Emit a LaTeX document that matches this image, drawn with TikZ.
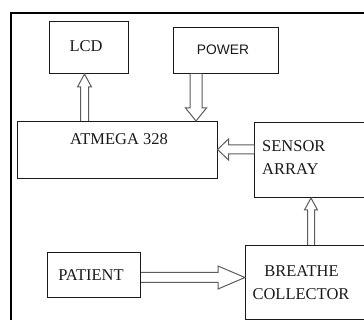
\documentclass[tikz,border=0pt]{standalone}
\usepackage{fontspec}
\setmainfont{Liberation Serif}
\newfontfamily\powerfont{Liberation Sans}
\usetikzlibrary{calc}
\definecolor{ink}{HTML}{1A1A1A}
\definecolor{arrgray}{HTML}{5C5C5C}
\tikzset{
  box/.style={draw=ink, line width=1pt, anchor=north west, inner sep=0pt, fill=none},
  frame/.style={draw=black, line width=1.6pt},
  lbl/.style={inner sep=0pt, text=ink, font=\fontsize{16.5}{23}\selectfont},
  barrow/.style={draw=arrgray, line width=1pt, fill=white, line join=miter},
}
\newcommand\vbarrow[5]{%
  \draw[barrow] let \p1=(#1), \p2=(#2), \n1={ifthenelse(\y2>\y1,1,-1)} in
  (\x1-#3,\y1) -- (\x1-#3,\y2-\n1*#5) -- (\x1-#4,\y2-\n1*#5) -- (\x1,\y2)
  -- (\x1+#4,\y2-\n1*#5) -- (\x1+#3,\y2-\n1*#5) -- (\x1+#3,\y1);}
\newcommand\hbarrow[5]{%
  \draw[barrow] let \p1=(#1), \p2=(#2), \n1={ifthenelse(\x2>\x1,1,-1)} in
  (\x1,\y1-#3) -- (\x2-\n1*#5,\y1-#3) -- (\x2-\n1*#5,\y1-#4) -- (\x2,\y1)
  -- (\x2-\n1*#5,\y1+#4) -- (\x2-\n1*#5,\y1+#3) -- (\x1,\y1+#3);}
\begin{document}
\begin{tikzpicture}[x=1pt,y=-1pt]
\useasboundingbox[fill=white] (0,0) rectangle (364,320);
\clip (0,0) rectangle (364,320);
% outer frame
\draw[frame] (11,420) -- (11,13) -- (420,13);
% boxes
\node[box, minimum width=79pt, minimum height=52pt] (lcd) at (49,21) {};
\node[box, minimum width=105pt, minimum height=46pt] (pow) at (173,27) {};
\node[box, minimum width=200pt, minimum height=57pt] (atm) at (16.5,121) {};
\node[box, minimum width=140pt, minimum height=75pt] (sens) at (254,122) {};
\node[box, minimum width=150pt, minimum height=74pt] (brc) at (245,245) {};
\node[box, minimum width=93pt, minimum height=45pt] (pat) at (47,252) {};
% texts
\node[lbl] (tlcd) at (86,46) {LCD};
\node[lbl, font=\powerfont\fontsize{13.8}{16}\selectfont] (tpow) at (223,49.5) {POWER};
\node[lbl] (tatm) at (119,139) {ATMEGA 328};
\node[lbl, anchor=north west, align=left] (tsens) at (262,140) {SENSOR\\ARRAY};
\node[lbl] (tpat) at (91,275) {PATIENT};
\node[lbl, anchor=north, align=center] (tbrc) at (301,265) {\hspace{1pt}BREATHE\\COLLECTOR};
% arrow anchor points
\coordinate (a1) at ([xshift=-4.5pt]lcd.south);
\coordinate (a2) at ([xshift=-30pt]pow.south);
\coordinate (a3) at ([yshift=10.5pt]sens.west);
\coordinate (a4) at ([xshift=66pt]brc.north west);
\coordinate (a5) at ([yshift=-2.5pt]pat.east);
% block arrows
\vbarrow{atm.north -| a1}{a1}{4pt}{7pt}{13pt}
\vbarrow{a2}{atm.north -| a2}{6pt}{10.5pt}{13pt}
\hbarrow{a3}{atm.east |- a3}{4.5pt}{10.5pt}{11pt}
\vbarrow{a4}{sens.south -| a4}{3.5pt}{6.5pt}{12pt}
\hbarrow{a5}{brc.west |- a5}{5pt}{11.5pt}{27pt}
\end{tikzpicture}
\end{document}
